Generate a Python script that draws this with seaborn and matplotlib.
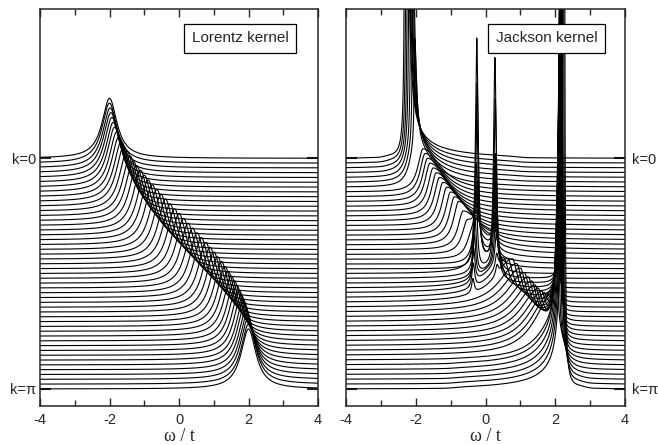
import numpy as np
import pandas as pd
import matplotlib
matplotlib.use("Agg")
import matplotlib.pyplot as plt
import seaborn as sns
from matplotlib.ticker import MultipleLocator

# one curve per momentum, index 0 -> k=0 (top) ... 48 -> k=pi (bottom)
k_index = list(range(49))

# Lorentz kernel panel: peak position (omega/t) of every curve
lorentz_peak = [-2.00, -2.00, -1.98, -1.96, -1.93, -1.89, -1.85, -1.79, -1.73,
                -1.66, -1.59, -1.50, -1.41, -1.32, -1.22, -1.11, -1.00, -0.89,
                -0.77, -0.64, -0.52, -0.39, -0.26, -0.13, 0.00, 0.13, 0.26,
                0.39, 0.52, 0.64, 0.77, 0.89, 1.00, 1.11, 1.22, 1.32, 1.41,
                1.50, 1.59, 1.66, 1.73, 1.79, 1.85, 1.89, 1.93, 1.96, 1.98,
                2.00, 2.00]
lorentz_height = 12.5      # peak height in units of the curve offset
lorentz_halfwidth = 0.26

# Jackson kernel panel: broad peak + sharp spike near the band edges
jackson_peak = [-2.30, -2.26, -2.22, -2.18, -2.13, -2.08, -2.03, -1.79, -1.73,
                -1.66, -1.59, -1.50, -1.41, -1.32, -1.22, -1.11, -1.00, -0.89,
                -0.77, -0.64, -0.52, -0.39, -0.26, -0.13, 0.00, 0.13, 0.26,
                0.39, 0.52, 0.64, 0.77, 0.89, 1.00, 1.11, 1.22, 1.32, 1.41,
                1.50, 1.59, 1.66, 1.73, 1.79, 2.05, 2.09, 2.13, 2.17, 2.20,
                2.23, 2.26]
jackson_height = [3, 4, 5, 6, 7, 8, 8.5, 9, 9, 9, 9, 9, 9, 9, 9, 9, 9, 9, 9,
                  8, 7, 5, 3, 2, 2, 2, 3, 5, 7, 8, 9, 9, 9, 9, 9, 9, 9, 9, 9,
                  9, 9, 9, 8.5, 8, 7, 6, 5, 4, 3]
jackson_spike = [120, 110, 95, 80, 60, 40, 22, 0, 0, 0, 0, 0, 0, 0, 0, 0, 0,
                 0, 0, 0, 0, 0, 0, 0, 0, 0, 0, 0, 0, 0, 0, 0, 0, 0, 0, 0, 0, 0,
                 0, 0, 0, 0, 22, 40, 60, 80, 95, 110, 120]
# extra spike near omega = 2.1-2.2 on the lower-middle momenta
edge_spike = [0, 0, 0, 0, 0, 0, 0, 0, 0, 0, 0, 0, 0, 0, 0, 0, 0, 0, 0, 0, 0,
              0, 0, 0, 0, 5, 8, 12, 16, 22, 28, 35, 42, 50, 60, 70, 80, 90,
              100, 110, 115, 120, 0, 0, 0, 0, 0, 0, 0]
edge_spike_at = [2.16] * 25 + [2.10, 2.11, 2.11, 2.12, 2.12, 2.13, 2.13, 2.14,
                               2.14, 2.15, 2.15, 2.16, 2.16, 2.17, 2.17, 2.18,
                               2.18] + [2.16] * 7
jackson_wing = [2.2, 2.0, 1.8, 1.5, 1.2, 0.8, 0.4, 0, 0, 0, 0, 0, 0, 0, 0, 0,
                0, 0, 0, 0, 0, 0, 0, 0, 0, 0, 0, 0, 0, 0, 0, 0, 0, 0, 0, 0, 0,
                0, 0, 0, 0, 0, 0.4, 0.8, 1.0, 1.2, 1.4, 1.6, 1.8]
# ringing just outside the band edge for the outermost momenta
jackson_ring = [0.5, 0.4, 0.3, 0.2, 0, 0, 0, 0, 0, 0, 0, 0, 0, 0, 0, 0, 0, 0,
                0, 0, 0, 0, 0, 0, 0, 0, 0, 0, 0, 0, 0, 0, 0, 0, 0, 0, 0, 0, 0,
                0, 0, 0, 0, 0, 0, 0.2, 0.35, 0.5, 0.6]
# narrow spikes around omega = -0.28 and +0.28 (height and position)
spike_lo = [0, 0, 0, 0, 0, 0, 0, 0, 0, 0, 0, 0, 0, 0, 0, 0, 0, 0, 2, 4, 8, 15,
            27, 37, 47, 20, 12, 9, 7, 5, 3, 0, 0, 0, 0, 0, 0, 0, 0, 0, 0, 0, 0,
            0, 0, 0, 0, 0, 0]
spike_lo_at = [-0.25] * 20 + [-0.26, -0.26, -0.25, -0.24, -0.25, -0.28, -0.30,
                              -0.32, -0.34, -0.35, -0.36] + [-0.25] * 18
spike_hi = [0, 0, 0, 0, 0, 0, 0, 0, 0, 0, 0, 0, 0, 0, 0, 0, 0, 0, 2, 3, 6, 10,
            15, 22, 44, 36, 24, 12, 6, 3, 2, 0, 0, 0, 0, 0, 0, 0, 0, 0, 0, 0, 0,
            0, 0, 0, 0, 0, 0]
spike_hi_at = [0.27] * 20 + [0.24, 0.25, 0.26, 0.26, 0.27, 0.28, 0.29, 0.30,
                             0.31, 0.32, 0.33] + [0.27] * 18

omega = np.linspace(-4, 4, 3201)
n_curves = len(k_index)


def lorentz_frame():
    rows = []
    for n in k_index:
        d = omega - lorentz_peak[n]
        g = lorentz_halfwidth
        level = (n_curves - 1 - n) + lorentz_height * g**2 / (d**2 + g**2)
        rows.append(pd.DataFrame({"omega": omega, "level": level, "curve": n}))
    return pd.concat(rows, ignore_index=True)


def jackson_frame():
    rows = []
    for n in k_index:
        p = jackson_peak[n]
        d = omega - p
        # outer = towards the nearer band edge, inner = towards band centre
        outer = d < 0 if n < 24 else d > 0
        g = np.where(outer, 0.18, 0.6)
        y = jackson_height[n] * g**2 / (d**2 + g**2)
        gs = np.where(outer, 0.02, 0.065)
        y = y + jackson_spike[n] * gs**2 / (d**2 + gs**2)
        if edge_spike[n] > 0:
            de = omega - edge_spike_at[n]
            ge = np.where(de > 0, 0.02, 0.07)
            y = y + edge_spike[n] * ge**2 / (de**2 + ge**2)
        s_in = np.where(outer, 0, np.abs(d))
        if jackson_wing[n] > 0:
            edge = 0.9 if p < 0 else -0.9
            cut = 1 / (1 + np.exp((np.sign(-p) * (omega - edge)) / 0.12))
            y = y + jackson_wing[n] * np.exp(-s_in / 1.6) * cut * (~outer)
        if jackson_ring[n] > 0:
            s_out = np.where(outer, np.abs(d), 0)
            y = y - jackson_ring[n] * np.sin(2 * np.pi * s_out / 0.7) * np.exp(-s_out / 0.3)
        gl = 0.045
        y = y + spike_lo[n] * gl**2 / ((omega - spike_lo_at[n])**2 + gl**2)
        y = y + spike_hi[n] * gl**2 / ((omega - spike_hi_at[n])**2 + gl**2)
        level = (n_curves - 1 - n) + y
        rows.append(pd.DataFrame({"omega": omega, "level": level, "curve": n}))
    return pd.concat(rows, ignore_index=True)


sns.set_style("ticks")
plt.rcParams["font.family"] = ["Liberation Sans", "DejaVu Sans"]
plt.rcParams["axes.unicode_minus"] = False

fig = plt.figure(figsize=(6.58, 4.45), dpi=100)
ax1 = fig.add_axes([40 / 658, 1 - 406 / 445, 278 / 658, 397 / 445])
ax2 = fig.add_axes([346 / 658, 1 - 406 / 445, 279 / 658, 397 / 445])

panels = [(ax1, lorentz_frame(), "Lorentz kernel", True),
          (ax2, jackson_frame(), "Jackson kernel", False)]

for ax, df, title, left in panels:
    sns.lineplot(data=df, x="omega", y="level", units="curve", estimator=None,
                 color="black", linewidth=0.8, sort=False, legend=False, ax=ax)
    ax.set_xlim(-4, 4)
    ax.set_ylim(-3.54, 79.07)
    ax.xaxis.set_major_locator(MultipleLocator(2))
    ax.xaxis.set_minor_locator(MultipleLocator(1))
    ax.tick_params(axis="x", which="both", direction="in", top=True,
                   bottom=True, labelsize=10.5, pad=5, width=1)
    ax.tick_params(axis="x", which="major", length=6)
    ax.tick_params(axis="x", which="minor", length=4)
    ax.set_yticks([n_curves - 1, 0])
    ax.set_yticklabels(["k=0", "k=\u03c0"])
    ax.tick_params(axis="y", direction="in", left=True, right=True,
                   labelleft=left, labelright=not left, length=8, width=1.5,
                   labelsize=10.5, pad=3 if left else 5)
    ax.set_xlabel("\u03c9 / t", fontsize=13, family=["Liberation Serif", "DejaVu Serif"],
                  labelpad=1)
    ax.set_ylabel("")
    for s in ax.spines.values():
        s.set_linewidth(1.1)
    ax.text(0.72, 0.926, title, transform=ax.transAxes, ha="center", va="center",
            fontsize=11,
            bbox=dict(boxstyle="square,pad=0.5", facecolor="white",
                      edgecolor="black", linewidth=0.9))

fig.savefig("out.png", dpi=100)
